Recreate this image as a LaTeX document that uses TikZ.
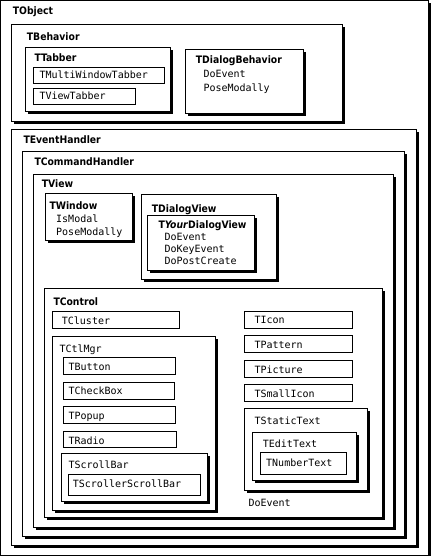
\documentclass[tikz,border=0pt]{standalone}
\usepackage{fontspec}
\usetikzlibrary{shadows}
\newfontfamily\titlefont{DejaVu Sans Condensed}
\newfontfamily\codefont{DejaVu Sans Mono}

\begin{document}
\begin{tikzpicture}[x=1pt,y=-1pt,
shadow node/.style={draw,fill=white,line width=1pt,inner sep=0pt,outer sep=0pt,drop shadow={shadow xshift=2.5pt,shadow yshift=-2.5pt,opacity=1,fill=black}},
plain node/.style={draw,fill=white,line width=1pt,inner sep=0pt,outer sep=0pt},
wh/.style 2 args={minimum width=#1pt,minimum height=#2pt},
bold text/.style={font=\titlefont\bfseries\fontsize{10.3}{12}\selectfont,anchor=base west,inner sep=0pt},
mono text/.style={font=\codefont\fontsize{10}{12}\selectfont,anchor=base west,inner sep=0pt}]

\useasboundingbox (0,0) rectangle (431,556);

\node[shadow node,wh={428}{554.5}] (b0) at (214.5,277.75) {};
\node[shadow node,wh={331}{97}] (b1) at (177,73) {};
\node[shadow node,wh={145}{64}] (b2) at (98,79.5) {};
\node[plain node,wh={131}{16}] (b3) at (99,75.5) {};
\node[plain node,wh={102}{16}] (b4) at (84.5,96.5) {};
\node[shadow node,wh={118}{64}] (b5) at (244.5,81.5) {};

\node[shadow node,wh={405}{416}] (b6) at (214,337.5) {};
\node[shadow node,wh={382}{385}] (b7) at (213.5,344) {};
\node[shadow node,wh={360}{353}] (b8) at (213.5,351) {};
\node[shadow node,wh={87}{47}] (b9) at (89,217) {};
\node[shadow node,wh={135}{85}] (b10) at (209,237) {};
\node[shadow node,wh={107}{55}] (b11) at (201,243) {};
\node[shadow node,wh={338}{229}] (b12) at (213.5,403) {};

\node[plain node,wh={127}{17}] (b13) at (116,320) {};
\node[shadow node,wh={163}{174}] (b14) at (134,423.5) {};
\node[plain node,wh={112}{17}] (b15) at (119.5,366) {};
\node[plain node,wh={111}{17}] (b16) at (119,391) {};
\node[plain node,wh={112}{17}] (b17) at (119.5,415) {};
\node[plain node,wh={113}{16}] (b18) at (120,439.5) {};
\node[shadow node,wh={146}{48}] (b19) at (134.5,477.5) {};
\node[plain node,wh={132}{21}] (b20) at (134.5,485) {};

\node[plain node,wh={108}{17}] (b21) at (298.5,320) {};
\node[plain node,wh={108}{17}] (b22) at (298.5,344) {};
\node[plain node,wh={108}{17}] (b23) at (298.5,369) {};
\node[plain node,wh={108}{17}] (b24) at (298.5,393) {};
\node[shadow node,wh={123}{82}] (b25) at (306,449.5) {};
\node[shadow node,wh={104}{48}] (b26) at (304.5,456.5) {};
\node[plain node,wh={86}{22}] (b27) at (303.5,463.5) {};


\node[bold text] (t0) at (12.7,15) {TObject};
\node[bold text] (t1) at (26.7,40.5) {TBehavior};
\node[bold text] (t2) at (34.3,61.3) {TTabber};
\node[mono text] (t3) at (39.3,78.7) {TMultiWindowTabber};
\node[mono text] (t4) at (39.3,99.3) {TViewTabber};
\node[bold text] (t5) at (195.7,63.3) {TDialogBehavior};
\node[mono text] (m5a) at (203.3,77.3) {DoEvent};
\node[mono text] (m5b) at (203.3,91.3) {PoseModally};

\node[bold text] (t6) at (23.3,143.3) {TEventHandler};
\node[bold text] (t7) at (34.3,165) {TCommandHandler};
\node[bold text] (t8) at (41.7,187.3) {TView};
\node[bold text] (t9) at (49.3,209) {TWindow};
\node[mono text] (m9a) at (56,222.3) {IsModal};
\node[mono text] (m9b) at (56,235) {PoseModally};
\node[bold text] (t10) at (151.7,212) {TDialogView};
\node[bold text] (t11) at (158.3,228.3) {T\textit{Your}DialogView};
\node[mono text] (m11a) at (164.3,240) {DoEvent};
\node[mono text] (m11b) at (164.3,252) {DoKeyEvent};
\node[mono text] (m11c) at (164.3,264.3) {DoPostCreate};
\node[bold text] (t12) at (53.3,305.3) {TControl};

\node[mono text] (t13) at (61.7,324) {TCluster};
\node[mono text] (t14) at (59.3,352) {TCtlMgr};
\node[mono text] (t15) at (68.3,370) {TButton};
\node[mono text] (t16) at (68.3,394.7) {TCheckBox};
\node[mono text] (t17) at (68.3,419.3) {TPopup};
\node[mono text] (t18) at (68.3,444.7) {TRadio};
\node[mono text] (t19) at (68.3,468.7) {TScrollBar};
\node[mono text] (t20) at (72.7,487.7) {TScrollerScrollBar};

\node[mono text] (t21) at (254.3,323.7) {TIcon};
\node[mono text] (t22) at (254.3,348.3) {TPattern};
\node[mono text] (t23) at (254.3,373) {TPicture};
\node[mono text] (t24) at (254.3,397.3) {TSmallIcon};
\node[mono text] (t25) at (254.3,424.7) {TStaticText};
\node[mono text] (t26) at (262.7,447) {TEditText};
\node[mono text] (t27) at (266,466.7) {TNumberText};
\node[mono text] (m12a) at (248.3,506.7) {DoEvent};
\end{tikzpicture}
\end{document}
